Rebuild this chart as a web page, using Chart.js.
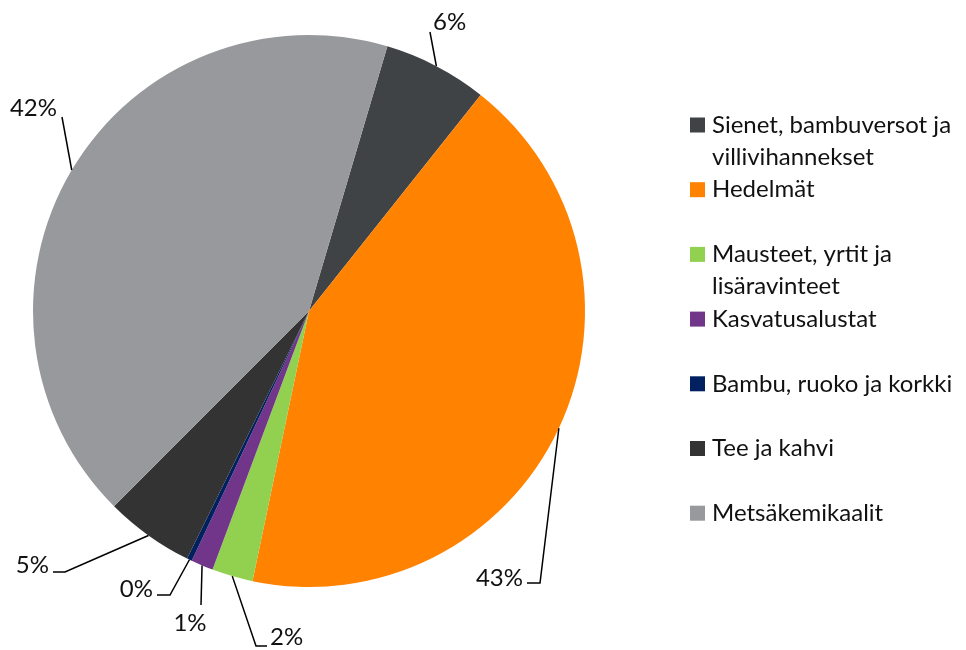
<!DOCTYPE html>
<html>
<head>
<meta charset="utf-8">
<script src="https://cdn.jsdelivr.net/npm/chart.js@4.4.1/dist/chart.umd.min.js"></script>
<style>
  html, body { margin: 0; padding: 0; background: #fff; }
  #wrap { width: 966px; height: 650px; }
</style>
</head>
<body>
<div id="wrap"><canvas id="pieChart" width="966" height="650"></canvas></div>
<script>
// ============ DATA ============

const categories = [
  'Sienet, bambuversot ja villivihannekset',
  'Hedelmät',
  'Mausteet, yrtit ja lisäravinteet',
  'Kasvatusalustat',
  'Bambu, ruoko ja korkki',
  'Tee ja kahvi',
  'Metsäkemikaalit'
];
const legendLines = [
  ['Sienet, bambuversot ja', 'villivihannekset'],
  ['Hedelmät'],
  ['Mausteet, yrtit ja', 'lisäravinteet'],
  ['Kasvatusalustat'],
  ['Bambu, ruoko ja korkki'],
  ['Tee ja kahvi'],
  ['Metsäkemikaalit']
];
const shares = [6.1, 42.6, 2.4, 1.3, 0.3, 5.2, 42.1];
const colors = ['#404345', '#ff8200', '#92d050', '#71368a', '#002060', '#333333', '#97999c'];

// leader line elbows / label spots (layout only)
const labelLayout = [
  { elbow: [430, 32], end: null, text: [433, 22], align: 'left' },
  { elbow: [540, 583], end: [527, 583], text: [523, 578], align: 'right' },
  { elbow: [256, 646], end: [267, 646], text: [270, 637], align: 'left' },
  { elbow: [201, 605], end: null, text: [190, 623], align: 'center' },
  { elbow: [170, 595], end: [157, 595], text: [153, 589], align: 'right' },
  { elbow: [65, 572], end: [53, 572], text: [49, 565], align: 'right' },
  { elbow: [62, 117], end: null, text: [57, 108], align: 'right' }
];

const FONT = 'Lato, "Open Sans", sans-serif';

// ============ PLUGINS ============

const leaderLabels = {
  id: 'leaderLabels',
  afterDatasetsDraw(chart) {
    const ctx = chart.ctx;
    const meta = chart.getDatasetMeta(0);
    const total = shares.reduce((a, b) => a + b, 0);
    ctx.save();
    ctx.strokeStyle = '#000';
    ctx.lineWidth = 1.5;
    ctx.fillStyle = '#111';
    ctx.font = '24px ' + FONT;
    ctx.textBaseline = 'middle';
    meta.data.forEach((arc, i) => {
      const p = arc.getProps(['x', 'y', 'startAngle', 'endAngle', 'outerRadius'], true);
      const mid = (p.startAngle + p.endAngle) / 2;
      const sx = p.x + Math.cos(mid) * p.outerRadius;
      const sy = p.y + Math.sin(mid) * p.outerRadius;
      const lay = labelLayout[i];
      ctx.beginPath();
      ctx.moveTo(sx, sy);
      ctx.lineTo(lay.elbow[0], lay.elbow[1]);
      if (lay.end) ctx.lineTo(lay.end[0], lay.end[1]);
      ctx.stroke();
      ctx.textAlign = lay.align;
      ctx.fillText(Math.round(shares[i] / total * 100) + '%', lay.text[0], lay.text[1]);
    });
    ctx.restore();
  }
};

const sideLegend = {
  id: 'sideLegend',
  afterDraw(chart) {
    const ctx = chart.ctx;
    ctx.save();
    ctx.font = '24px ' + FONT;
    ctx.textBaseline = 'middle';
    ctx.textAlign = 'left';
    legendLines.forEach((lines, i) => {
      const y = 125 + i * 64.7;
      ctx.fillStyle = colors[i];
      ctx.fillRect(690, y - 7.5, 15, 15);
      ctx.fillStyle = '#111';
      lines.forEach((line, j) => ctx.fillText(line, 712, y + j * 32));
    });
    ctx.restore();
  }
};

// ============ CHART ============

new Chart(document.getElementById('pieChart'), {
  type: 'pie',
  data: {
    labels: categories,
    datasets: [{
      data: shares,
      backgroundColor: colors,
      borderWidth: 0
    }]
  },
  options: {
    responsive: false,
    animation: false,
    rotation: 16.5,
    layout: { padding: { left: 33, right: 381, top: 35, bottom: 63 } },
    plugins: {
      legend: { display: false },
      tooltip: { enabled: false }
    }
  },
  plugins: [leaderLabels, sideLegend]
});
</script>
</body>
</html>
